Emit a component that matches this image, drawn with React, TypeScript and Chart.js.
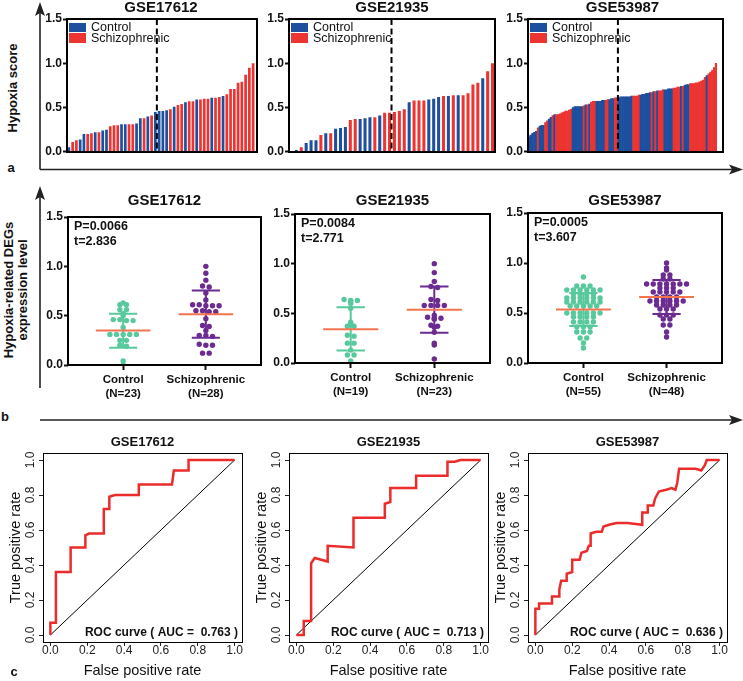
import React, { useEffect, useRef } from "react";
import { Chart, registerables } from "chart.js";

Chart.register(...registerables);

const FONT = "'Liberation Sans', Arial, Helvetica, sans-serif";
const BLUE = "#1d4f9f";
const RED = "#ec3431";
const TEAL = "#58c99c";
const PURPLE = "#6b2b91";
const MEAN = "#f4744f";
const ROC_RED = "#ec2b2b";
const INK = "#111111";

// ---------------- Row a : sorted hypoxia scores ----------------
const A_TITLES = ["GSE17612", "GSE21935", "GSE53987"];
const LEGEND_LABELS = ["Control", "Schizophrenic"];
const GP_Y_TICKS = [0, 0.5, 1.0, 1.5];

// group: 0 = Control, 1 = Schizophrenic
const A1_SCORES = [0.05, 0.11, 0.13, 0.14, 0.2, 0.2, 0.21, 0.22, 0.22, 0.24, 0.25, 0.29, 0.3, 0.3, 0.31, 0.31, 0.31, 0.31, 0.32, 0.38, 0.38, 0.4, 0.41, 0.45, 0.46, 0.46, 0.47, 0.48, 0.51, 0.53, 0.54, 0.56, 0.57, 0.57, 0.59, 0.59, 0.6, 0.6, 0.61, 0.61, 0.62, 0.63, 0.65, 0.71, 0.71, 0.78, 0.79, 0.87, 0.95, 1.0];
const A1_GROUPS = [0, 1, 1, 0, 0, 1, 1, 0, 1, 0, 0, 1, 1, 1, 0, 0, 1, 1, 0, 0, 1, 0, 1, 0, 0, 0, 0, 1, 0, 1, 1, 0, 1, 1, 0, 1, 1, 1, 0, 1, 1, 0, 1, 1, 1, 1, 1, 1, 1, 1];

const A2_SCORES = [0.01, 0.02, 0.05, 0.1, 0.13, 0.13, 0.19, 0.21, 0.21, 0.26, 0.27, 0.28, 0.36, 0.37, 0.37, 0.38, 0.39, 0.39, 0.41, 0.44, 0.44, 0.45, 0.46, 0.48, 0.56, 0.58, 0.58, 0.58, 0.59, 0.6, 0.62, 0.63, 0.63, 0.64, 0.64, 0.64, 0.66, 0.76, 0.78, 0.83, 0.91, 1.0];
const A2_GROUPS = [1, 0, 1, 0, 0, 0, 1, 0, 1, 0, 0, 0, 1, 1, 0, 0, 0, 1, 0, 1, 1, 1, 1, 1, 0, 1, 1, 1, 0, 0, 0, 1, 0, 1, 0, 1, 1, 1, 1, 0, 1, 1];

const A3_SCORES = [
  0.17, 0.19, 0.21, 0.22, 0.23,
  0.27,
  0.29, 0.3, 0.3,
  0.33, 0.35,
  0.37, 0.39,
  0.41,
  0.42,
  0.42, 0.42, 0.43, 0.44, 0.45, 0.46, 0.46, 0.47, 0.48,
  0.5, 0.51, 0.51, 0.51, 0.51, 0.51,
  0.52,
  0.53,
  0.53,
  0.54,
  0.56, 0.57, 0.57,
  0.57, 0.57, 0.57, 0.58, 0.58,
  0.58, 0.59,
  0.59, 0.6, 0.6,
  0.61, 0.61,
  0.61, 0.62, 0.62, 0.62, 0.62, 0.62, 0.62, 0.63,
  0.63, 0.63, 0.63, 0.64,
  0.64, 0.65, 0.65, 0.66, 0.66, 0.67,
  0.67,
  0.68,
  0.68,
  0.69,
  0.69, 0.69, 0.7,
  0.7, 0.7, 0.71, 0.71, 0.71,
  0.72, 0.72, 0.73, 0.73,
  0.74,
  0.74,
  0.75, 0.76, 0.76,
  0.77, 0.77, 0.77, 0.78, 0.78, 0.79, 0.8, 0.81,
  0.84,
  0.86,
  0.88, 0.9, 0.92, 0.95, 1.0,
];
const A3_GROUPS = [
  0, 0, 0, 0, 0,
  1,
  0, 0, 0,
  1, 1,
  0, 0,
  1,
  0,
  1, 1, 1, 1, 1, 1, 1, 1, 1,
  0, 0, 0, 0, 0, 0,
  1,
  0,
  1,
  0,
  1, 1, 1,
  0, 0, 0, 0, 0,
  1, 1,
  0, 0, 0,
  1, 1,
  0, 0, 0, 0, 0, 0, 0, 0,
  1, 1, 1, 1,
  0, 0, 0, 0, 0, 0,
  1,
  0,
  1,
  0,
  1, 1, 1,
  0, 0, 0, 0, 0,
  1, 1, 1, 1,
  0,
  1,
  0, 0, 0,
  1, 1, 1, 1, 1, 1, 1, 1,
  1,
  0,
  1, 1, 1, 1, 1,
];
// position of the dashed split line (category index)
const A_DASH = [23.4, 20.4, 48.5];

// ---------------- Row b : expression level dot plots ----------------
const B_TITLES = ["GSE17612", "GSE21935", "GSE53987"];
const B_GROUPS = ["Control", "Schizophrenic"];
const B_N = [[23, 28], [19, 23], [55, 48]];

const B1_CONTROL = [0.63, 0.61, 0.61, 0.56, 0.56, 0.52, 0.5, 0.46, 0.46, 0.45, 0.45, 0.38, 0.31, 0.31, 0.31, 0.31, 0.31, 0.25, 0.25, 0.2, 0.19, 0.04, 0.0];
const B1_SCHIZO = [1.0, 0.93, 0.86, 0.8, 0.79, 0.73, 0.66, 0.61, 0.61, 0.6, 0.6, 0.6, 0.55, 0.55, 0.54, 0.54, 0.47, 0.4, 0.39, 0.35, 0.3, 0.3, 0.29, 0.21, 0.2, 0.2, 0.12, 0.12];
const B2_CONTROL = [0.64, 0.63, 0.63, 0.62, 0.6, 0.55, 0.41, 0.39, 0.37, 0.37, 0.28, 0.27, 0.2, 0.2, 0.13, 0.08, 0.08, 0.02, 0.0];
const B2_SCHIZO = [1.0, 0.91, 0.82, 0.77, 0.76, 0.64, 0.63, 0.58, 0.58, 0.58, 0.58, 0.48, 0.46, 0.45, 0.45, 0.44, 0.38, 0.37, 0.36, 0.31, 0.2, 0.18, 0.04];
const B3_CONTROL = [
  0.86,
  0.77, 0.77, 0.77,
  0.73, 0.73, 0.73, 0.73, 0.73, 0.73,
  0.69, 0.69, 0.69, 0.69,
  0.65, 0.65, 0.65, 0.65, 0.65, 0.65,
  0.61, 0.61, 0.61, 0.61, 0.61, 0.61,
  0.57, 0.57, 0.57, 0.57, 0.57,
  0.5, 0.5, 0.5, 0.5, 0.5, 0.5,
  0.46, 0.46, 0.46, 0.46,
  0.41, 0.41, 0.41, 0.41,
  0.36, 0.36, 0.36,
  0.31, 0.31, 0.31,
  0.25, 0.25,
  0.2,
  0.15,
];
const B3_SCHIZO = [
  1.0, 0.95, 0.93,
  0.88, 0.88,
  0.84, 0.84,
  0.79, 0.79, 0.79, 0.79, 0.79, 0.79, 0.79,
  0.75, 0.75, 0.75,
  0.71, 0.71, 0.71, 0.71, 0.71,
  0.66, 0.66, 0.66, 0.66,
  0.62, 0.62, 0.62, 0.62, 0.62, 0.62,
  0.58, 0.58, 0.58, 0.58,
  0.54, 0.54, 0.54,
  0.48, 0.48, 0.48,
  0.44, 0.44,
  0.38, 0.38,
  0.31,
  0.26,
];
const B_VALUES = [[B1_CONTROL, B1_SCHIZO], [B2_CONTROL, B2_SCHIZO], [B3_CONTROL, B3_SCHIZO]];
const B_MEAN = [[0.35, 0.515], [0.34, 0.535], [0.535, 0.66]];
const B_SD_LOW = [[0.175, 0.275], [0.125, 0.305], [0.37, 0.49]];
const B_SD_HIGH = [[0.52, 0.755], [0.56, 0.77], [0.7, 0.83]];
const B_P = ["P=0.0066", "P=0.0084", "P=0.0005"];
const B_T = ["t=2.836", "t=2.771", "t=3.607"];

// ---------------- Row c : ROC curves ----------------
const C_TITLES = ["GSE17612", "GSE21935", "GSE53987"];
const C_TICKS = [0, 0.2, 0.4, 0.6, 0.8, 1.0];
const C_AUC = ["0.763", "0.713", "0.636"];

const ROC1_FPR = [0, 0, 0.03, 0.03, 0.11, 0.11, 0.19, 0.19, 0.21, 0.29, 0.29, 0.32, 0.32, 0.35, 0.48, 0.48, 0.66, 0.67, 0.75, 0.75, 1.0];
const ROC1_TPR = [0, 0.07, 0.07, 0.36, 0.36, 0.5, 0.5, 0.57, 0.58, 0.58, 0.72, 0.72, 0.79, 0.8, 0.8, 0.86, 0.86, 0.94, 0.94, 1.0, 1.0];
const ROC2_FPR = [0, 0.04, 0.04, 0.08, 0.08, 0.1, 0.17, 0.17, 0.31, 0.31, 0.48, 0.48, 0.51, 0.51, 0.65, 0.65, 0.82, 0.82, 0.86, 0.89, 1.0];
const ROC2_TPR = [0, 0, 0.08, 0.08, 0.41, 0.44, 0.42, 0.51, 0.5, 0.67, 0.67, 0.75, 0.76, 0.84, 0.84, 0.91, 0.91, 0.99, 0.99, 1.0, 1.0];
const ROC3_FPR = [0, 0, 0.02, 0.02, 0.09, 0.09, 0.13, 0.13, 0.14, 0.17, 0.17, 0.2, 0.2, 0.24, 0.25, 0.28, 0.29, 0.3, 0.3, 0.33, 0.36, 0.37, 0.4, 0.44, 0.5, 0.58, 0.58, 0.61, 0.61, 0.64, 0.65, 0.67, 0.71, 0.74, 0.76, 0.77, 0.78, 0.81, 0.87, 0.9, 0.92, 0.93, 0.97, 1.0];
const ROC3_TPR = [0, 0.15, 0.15, 0.18, 0.18, 0.22, 0.22, 0.26, 0.31, 0.31, 0.35, 0.36, 0.43, 0.43, 0.47, 0.48, 0.51, 0.51, 0.58, 0.59, 0.59, 0.62, 0.63, 0.64, 0.64, 0.63, 0.7, 0.7, 0.74, 0.74, 0.78, 0.82, 0.83, 0.84, 0.83, 0.87, 0.95, 0.95, 0.95, 0.94, 0.97, 1.0, 1.0, 1.0];
const ROC_FPR = [ROC1_FPR, ROC2_FPR, ROC3_FPR];
const ROC_TPR = [ROC1_TPR, ROC2_TPR, ROC3_TPR];

// ---------------- layout ----------------
type Geo = { L: number; T: number; R: number; B: number; yW: number; top: number; xH: number; rp: number; bp: number };

const GA: Geo[] = [
  { L: 67, T: 19, R: 255, B: 156, yW: 25, top: -2, xH: 0, rp: 8, bp: 4 },
  { L: 289, T: 19, R: 495, B: 156, yW: 25, top: -2, xH: 0, rp: 6, bp: 4 },
  { L: 528, T: 19, R: 717, B: 156, yW: 25, top: -2, xH: 0, rp: 10, bp: 4 },
];
const GA_FRAME_EXTRA = [2, 0, 6];
const GB: Geo[] = [
  { L: 68, T: 217, R: 261, B: 365, yW: 26, top: 190, xH: 40, rp: 5, bp: 0 },
  { L: 295, T: 214, R: 490, B: 363, yW: 26, top: 190, xH: 40, rp: 5, bp: 0 },
  { L: 528, T: 213, R: 722, B: 363, yW: 26, top: 190, xH: 40, rp: 5, bp: 0 },
];
const GC: Geo[] = [
  { L: 43, T: 453, R: 242, B: 642, yW: 41, top: 435, xH: 38, rp: 6, bp: 0 },
  { L: 289, T: 453, R: 488, B: 642, yW: 41, top: 435, xH: 38, rp: 6, bp: 0 },
  { L: 528, T: 453, R: 727, B: 642, yW: 41, top: 435, xH: 38, rp: 6, bp: 0 },
];

function canvasBox(g: Geo) {
  return { left: g.L - g.yW, top: g.top, width: g.R - g.L + g.yW + g.rp, height: g.B - g.top + g.xH + g.bp };
}

function titleOpts(text: string, size: number, g: Geo, padTop: number) {
  const lh = size * 1.2;
  return {
    display: true,
    text,
    fullSize: false,
    color: INK,
    font: { family: FONT, size, weight: "bold", lineHeight: 1.2 },
    padding: { top: padTop, bottom: g.T - g.top - lh - padTop },
  };
}

function framePlugin(lw: number, extraR: number) {
  return {
    id: "frame",
    afterDraw(chart: any) {
      const { ctx, chartArea: a } = chart;
      ctx.save();
      ctx.strokeStyle = "#000";
      ctx.lineWidth = lw;
      const off = lw % 2 === 1 ? 0.5 : 0;
      ctx.strokeRect(Math.round(a.left) + off, Math.round(a.top) + off, Math.round(a.right - a.left + extraR), Math.round(a.bottom - a.top));
      ctx.restore();
    },
  };
}

function gpYAxis(yW: number) {
  return {
    type: "linear",
    min: 0,
    max: 1.5,
    bounds: "data",
    afterBuildTicks: (s: any) => {
      s.ticks = GP_Y_TICKS.map((v) => ({ value: v }));
    },
    afterFit: (s: any) => {
      s.width = yW;
    },
    ticks: {
      callback: (v: any) => Number(v).toFixed(1),
      font: { family: FONT, size: 12, weight: "bold" },
      color: INK,
      padding: 1,
      autoSkip: false,
    },
    grid: { drawOnChartArea: false, drawTicks: true, tickLength: 4, tickWidth: 2, tickColor: INK },
    border: { display: false },
  };
}

const baseOpts = {
  responsive: false,
  maintainAspectRatio: false,
  animation: false,
  events: [] as string[],
  devicePixelRatio: 1,
};

function barConfig(i: number, scores: number[], groups: number[], barPct: number) {
  const g = GA[i];
  const decor = {
    id: "barDecor",
    afterDatasetsDraw(chart: any) {
      const { ctx, chartArea: a, scales } = chart;
      const px = scales.x.getPixelForValue(A_DASH[i]);
      ctx.save();
      ctx.strokeStyle = "#000";
      ctx.lineWidth = 2;
      ctx.setLineDash([6, 3.5]);
      ctx.beginPath();
      ctx.moveTo(px, a.top);
      ctx.lineTo(px, a.bottom);
      ctx.stroke();
      ctx.setLineDash([]);
      ctx.fillStyle = BLUE;
      ctx.fillRect(a.left + 2, a.top + 4, 17, 9);
      ctx.fillStyle = RED;
      ctx.fillRect(a.left + 2, a.top + 14, 17, 10);
      ctx.fillStyle = INK;
      ctx.font = `12.5px ${FONT}`;
      ctx.textAlign = "left";
      ctx.textBaseline = "middle";
      ctx.fillText(LEGEND_LABELS[0], a.left + 24, a.top + 8.5);
      ctx.fillText(LEGEND_LABELS[1], a.left + 24, a.top + 19.5);
      ctx.restore();
    },
  };
  return {
    type: "bar",
    data: {
      labels: scores.map((_, k) => String(k + 1)),
      datasets: [
        {
          data: scores,
          backgroundColor: groups.map((v) => (v ? RED : BLUE)),
          borderWidth: 0,
          barPercentage: barPct,
          categoryPercentage: 1,
        },
      ],
    },
    options: {
      ...baseOpts,
      layout: { padding: { left: 0, right: g.rp, top: 0, bottom: g.bp } },
      plugins: { legend: { display: false }, tooltip: { enabled: false }, title: titleOpts(A_TITLES[i], 15, g, 1) },
      scales: {
        x: { type: "category", display: false, offset: true, grid: { display: false } },
        y: gpYAxis(g.yW),
      },
    },
    plugins: [framePlugin(2, GA_FRAME_EXTRA[i]), decor],
  };
}

// place dots of equal-ish value side by side (scatter dot plot layout)
function swarm(vals: number[], center: number) {
  const step = 0.08;
  const tol = 0.015;
  const order = vals.map((_, k) => k).sort((a, b) => vals[b] - vals[a]);
  const out: { x: number; y: number }[] = new Array(vals.length);
  let i = 0;
  while (i < order.length) {
    let j = i;
    const v0 = vals[order[i]];
    while (j < order.length && v0 - vals[order[j]] <= tol) j++;
    const n = j - i;
    for (let k = 0; k < n; k++) {
      out[order[i + k]] = { x: center + (k - (n - 1) / 2) * step, y: vals[order[i + k]] };
    }
    i = j;
  }
  return out;
}

function dotConfig(i: number) {
  const g = GB[i];
  const CAP = 0.17;
  const MW = 0.33;
  const colors = [TEAL, PURPLE];
  const decor = {
    id: "dotDecor",
    afterDatasetsDraw(chart: any) {
      const { ctx, chartArea: a, scales } = chart;
      const X = (v: number) => scales.x.getPixelForValue(v);
      const Y = (v: number) => scales.y.getPixelForValue(v);
      ctx.save();
      ctx.lineWidth = 2;
      for (let k = 0; k < 2; k++) {
        const c = k + 1;
        const lo = B_SD_LOW[i][k];
        const hi = B_SD_HIGH[i][k];
        ctx.strokeStyle = colors[k];
        ctx.beginPath();
        ctx.moveTo(X(c), Y(lo));
        ctx.lineTo(X(c), Y(hi));
        ctx.moveTo(X(c - CAP), Y(hi));
        ctx.lineTo(X(c + CAP), Y(hi));
        ctx.moveTo(X(c - CAP), Y(lo));
        ctx.lineTo(X(c + CAP), Y(lo));
        ctx.stroke();
        ctx.strokeStyle = MEAN;
        ctx.beginPath();
        ctx.moveTo(X(c - MW), Y(B_MEAN[i][k]));
        ctx.lineTo(X(c + MW), Y(B_MEAN[i][k]));
        ctx.stroke();
      }
      ctx.fillStyle = INK;
      ctx.font = `bold 12.5px ${FONT}`;
      ctx.textAlign = "left";
      ctx.textBaseline = "middle";
      ctx.fillText(B_P[i], a.left + 6, a.top + 10);
      ctx.fillText(B_T[i], a.left + 6, a.top + 25);
      ctx.restore();
    },
  };
  return {
    type: "scatter",
    data: {
      datasets: [
        { data: swarm(B_VALUES[i][0], 1), pointRadius: 2.7, pointBackgroundColor: TEAL, backgroundColor: TEAL, pointBorderWidth: 0 },
        { data: swarm(B_VALUES[i][1], 2), pointRadius: 2.7, pointBackgroundColor: PURPLE, backgroundColor: PURPLE, pointBorderWidth: 0 },
      ],
    },
    options: {
      ...baseOpts,
      layout: { padding: { left: 0, right: g.rp, top: 0, bottom: g.bp } },
      plugins: { legend: { display: false }, tooltip: { enabled: false }, title: titleOpts(B_TITLES[i], 15, g, 2) },
      scales: {
        x: {
          type: "linear",
          min: 1 / 3,
          max: 8 / 3,
          bounds: "data",
          afterBuildTicks: (s: any) => {
            s.ticks = [1, 2].map((v) => ({ value: v }));
          },
          afterFit: (s: any) => {
            s.height = g.xH;
          },
          ticks: {
            callback: (v: any) => {
              const k = Math.round(Number(v)) - 1;
              return [B_GROUPS[k], `(N=${B_N[i][k]})`];
            },
            font: { family: FONT, size: 11.5, weight: "bold", lineHeight: 1.2 },
            color: INK,
            padding: 3,
            autoSkip: false,
            maxRotation: 0,
            minRotation: 0,
          },
          grid: { drawOnChartArea: false, drawTicks: true, tickLength: 5, tickWidth: 2, tickColor: INK },
          border: { display: false },
        },
        y: gpYAxis(g.yW),
      },
    },
    plugins: [framePlugin(2, 0), decor],
  };
}

function rocConfig(i: number) {
  const g = GC[i];
  const decor = {
    id: "rocDecor",
    afterDraw(chart: any) {
      const { ctx, chartArea: a } = chart;
      ctx.save();
      ctx.fillStyle = INK;
      ctx.font = `bold 12px ${FONT}`;
      ctx.textAlign = "right";
      ctx.textBaseline = "middle";
      ctx.fillText(`ROC curve ( AUC =  ${C_AUC[i]} )`, a.right - 4, a.bottom - 9);
      ctx.restore();
    },
  };
  const tickFont = { family: FONT, size: 12, lineHeight: 1 };
  const axisTitleFont = { family: FONT, size: 14.5, lineHeight: 1.2 };
  const setTicks = (s: any) => {
    s.ticks = C_TICKS.map((v) => ({ value: v }));
  };
  return {
    type: "scatter",
    data: {
      datasets: [
        {
          data: ROC_FPR[i].map((f, k) => ({ x: f, y: ROC_TPR[i][k] })),
          showLine: true,
          borderColor: ROC_RED,
          borderWidth: 2.5,
          pointRadius: 0,
          tension: 0,
        },
        {
          data: [
            { x: 0, y: 0 },
            { x: 1, y: 1 },
          ],
          showLine: true,
          borderColor: "#000",
          borderWidth: 1,
          pointRadius: 0,
        },
      ],
    },
    options: {
      ...baseOpts,
      layout: { padding: { left: 0, right: g.rp, top: 0, bottom: g.bp } },
      plugins: { legend: { display: false }, tooltip: { enabled: false }, title: titleOpts(C_TITLES[i], 13, g, 0) },
      scales: {
        x: {
          type: "linear",
          min: -0.04,
          max: 1.04,
          bounds: "data",
          afterBuildTicks: setTicks,
          afterFit: (s: any) => {
            s.height = g.xH;
          },
          ticks: { callback: (v: any) => Number(v).toFixed(1), font: tickFont, color: "#222", padding: -1, autoSkip: false, maxRotation: 0, minRotation: 0 },
          grid: { drawOnChartArea: false, drawTicks: true, tickLength: 4, tickWidth: 1, tickColor: "#222" },
          border: { display: false },
          title: { display: true, text: "False positive rate", font: axisTitleFont, color: INK, padding: { top: 0, bottom: 0 } },
        },
        y: {
          type: "linear",
          min: -0.04,
          max: 1.04,
          bounds: "data",
          afterBuildTicks: setTicks,
          afterFit: (s: any) => {
            s.width = g.yW;
          },
          ticks: { callback: (v: any) => Number(v).toFixed(1), font: tickFont, color: "#222", padding: 0, autoSkip: false, minRotation: 90, maxRotation: 90, crossAlign: "center" },
          grid: { drawOnChartArea: false, drawTicks: true, tickLength: 4, tickWidth: 1, tickColor: "#222" },
          border: { display: false },
          title: { display: true, text: "True positive rate", font: axisTitleFont, color: INK, padding: { top: 5, bottom: 0 } },
        },
      },
    },
    plugins: [framePlugin(1, 0), decor],
  };
}

function ChartCanvas({ geo, make }: { geo: Geo; make: () => any }) {
  const ref = useRef<HTMLCanvasElement | null>(null);
  const box = canvasBox(geo);
  useEffect(() => {
    if (!ref.current) return;
    const chart = new Chart(ref.current, make());
    return () => chart.destroy();
  }, []);
  return (
    <canvas
      ref={ref}
      width={box.width}
      height={box.height}
      style={{ position: "absolute", left: box.left, top: box.top, width: box.width, height: box.height }}
    />
  );
}

function RotText({ text, cx, cy, size, weight }: { text: string; cx: number; cy: number; size: number; weight: string }) {
  return (
    <div
      style={{
        position: "absolute",
        left: cx,
        top: cy,
        transform: "translate(-50%, -50%) rotate(-90deg)",
        whiteSpace: "nowrap",
        font: `${weight} ${size}px ${FONT}`,
        lineHeight: 1,
        color: INK,
      }}
    >
      {text}
    </div>
  );
}

function Letter({ text, cx, cy }: { text: string; cx: number; cy: number }) {
  return (
    <div
      style={{
        position: "absolute",
        left: cx,
        top: cy,
        transform: "translate(-50%, -50%)",
        font: `bold 13px ${FONT}`,
        lineHeight: 1,
        color: INK,
      }}
    >
      {text}
    </div>
  );
}

export default function App() {
  const A_SCORES = [A1_SCORES, A2_SCORES, A3_SCORES];
  const A_GROUPS = [A1_GROUPS, A2_GROUPS, A3_GROUPS];
  const A_BARPCT = [0.72, 0.62, 1];
  return (
    <div style={{ position: "absolute", left: 0, top: 0, width: 743, height: 681, overflow: "hidden", background: "#fff" }}>
      <svg width={743} height={681} style={{ position: "absolute", left: 0, top: 0 }}>
        <g stroke="#222" strokeWidth={1.6} fill="none">
          <line x1={40} y1={169.5} x2={40} y2={12} />
          <line x1={40} y1={169.5} x2={733} y2={169.5} />
          <line x1={40} y1={388} x2={40} y2={196} />
          <line x1={40} y1={420} x2={733} y2={420} />
        </g>
        <g fill="#222">
          <polygon points="40,2 35,16 40,13 45,16" />
          <polygon points="743,169.5 729,164.5 732,169.5 729,174.5" />
          <polygon points="40,186 35,200 40,197 45,200" />
          <polygon points="743,420 729,415 732,420 729,425" />
        </g>
      </svg>

      {[0, 1, 2].map((i) => (
        <ChartCanvas key={"a" + i} geo={GA[i]} make={() => barConfig(i, A_SCORES[i], A_GROUPS[i], A_BARPCT[i])} />
      ))}
      {[0, 1, 2].map((i) => (
        <ChartCanvas key={"b" + i} geo={GB[i]} make={() => dotConfig(i)} />
      ))}
      {[0, 1, 2].map((i) => (
        <ChartCanvas key={"c" + i} geo={GC[i]} make={() => rocConfig(i)} />
      ))}

      <RotText text="Hypoxia score" cx={12} cy={88} size={13} weight="bold" />
      <RotText text="Hypoxia-related DEGs" cx={8} cy={290} size={13} weight="bold" />
      <RotText text="expression level" cx={22} cy={290} size={13} weight="bold" />
      <Letter text="a" cx={11} cy={167} />
      <Letter text="b" cx={5} cy={416} />
      <Letter text="c" cx={14} cy={671} />
    </div>
  );
}
